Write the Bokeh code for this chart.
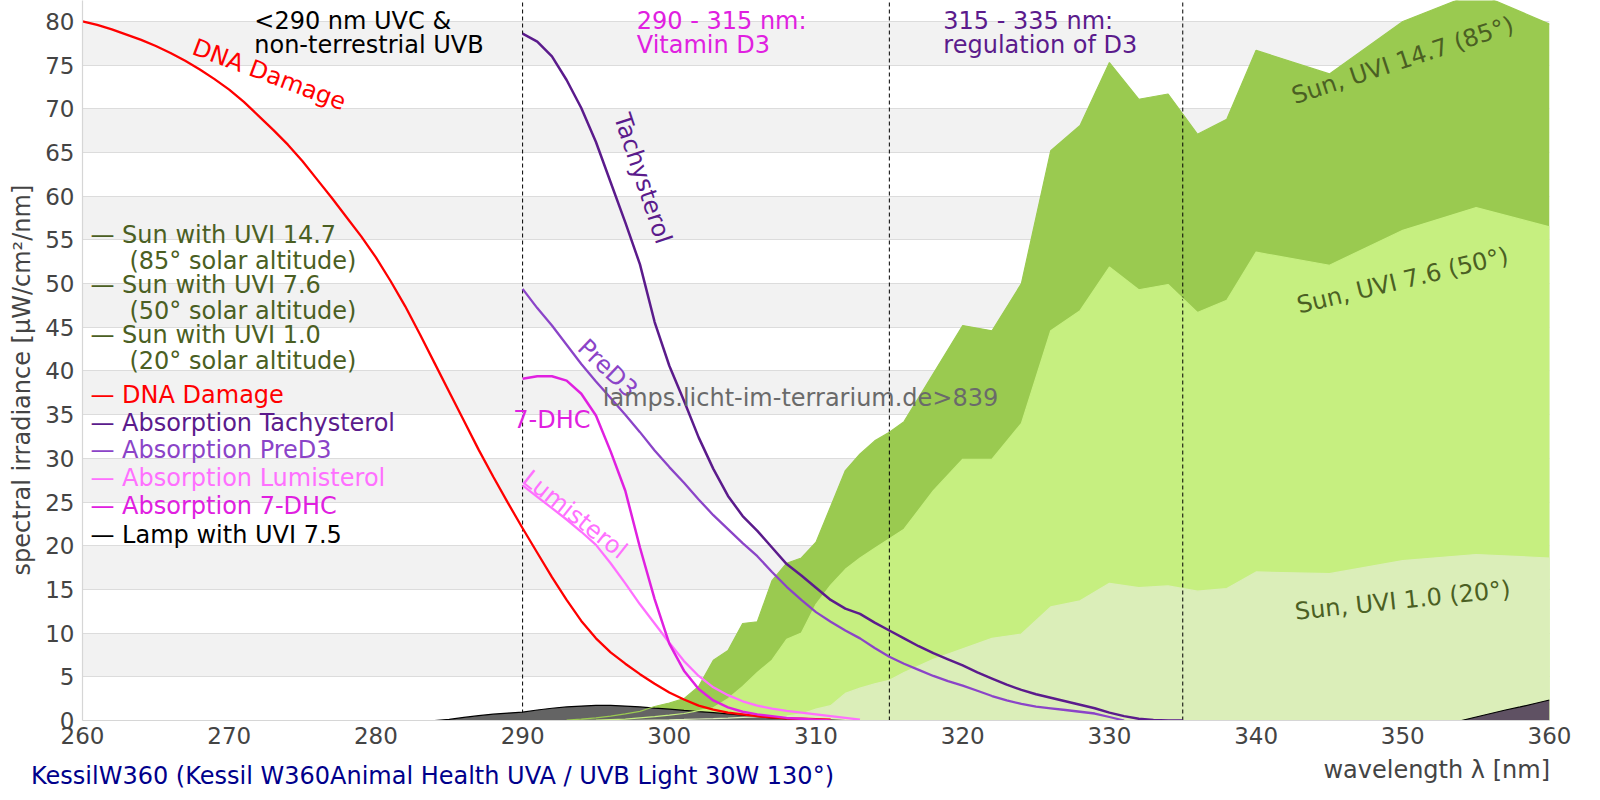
from bokeh.plotting import figure
from bokeh.models import Label, FixedTicker, Title, Div
from bokeh.layouts import column
from bokeh.embed import file_html
from bokeh.resources import INLINE

# ---------------- data ----------------
x_ticks = [260, 270, 280, 290, 300, 310, 320, 330, 340, 350, 360]
y_ticks = [0, 5, 10, 15, 20, 25, 30, 35, 40, 45, 50, 55, 60, 65, 70, 75, 80]

region_bounds = [290, 315, 335]

dna_wl = list(range(260, 312))
dna = [80.0, 79.6, 79.1, 78.5, 77.9, 77.2, 76.4, 75.5, 74.5, 73.4, 72.2, 70.8, 69.2,
       67.6, 65.9, 64.0, 61.9, 59.8, 57.6, 55.4, 53.0, 50.3, 47.4, 44.2, 40.9, 37.6,
       34.3, 31.0, 27.9, 24.9, 22.0, 19.2, 16.4, 13.8, 11.4, 9.4, 7.8, 6.5, 5.3, 4.2,
       3.2, 2.4, 1.7, 1.25, 0.9, 0.7, 0.5, 0.35, 0.25, 0.2, 0.15, 0.1]

tachy_wl = list(range(290, 336))
tachy = [78.6, 77.7, 76.0, 73.3, 70.1, 66.2, 61.6, 57.0, 52.2, 45.6, 40.6, 36.6, 32.4,
         28.8, 25.7, 23.4, 21.7, 19.8, 17.9, 16.6, 15.2, 13.8, 12.8, 12.2, 11.2, 10.3,
         9.4, 8.5, 7.7, 7.0, 6.3, 5.5, 4.8, 4.1, 3.5, 3.0, 2.6, 2.2, 1.8, 1.4, 0.9, 0.5,
         0.2, 0.05, 0.0, 0.0]

pred3_wl = list(range(290, 332))
pred3 = [49.4, 47.2, 45.2, 43.0, 40.8, 38.8, 36.9, 35.0, 33.0, 30.9, 29.0, 27.2, 25.3,
         23.5, 21.9, 20.3, 18.8, 17.0, 15.3, 13.8, 12.4, 11.3, 10.3, 9.4, 8.3, 7.3, 6.5,
         5.8, 5.1, 4.5, 4.0, 3.4, 2.8, 2.3, 1.9, 1.6, 1.4, 1.2, 1.0, 0.8, 0.4, 0.0]

lumi_wl = list(range(290, 314))
lumi = [26.9, 25.6, 24.3, 23.0, 21.6, 20.1, 18.0, 15.7, 13.3, 11.1, 8.9, 6.8, 5.1, 3.8,
        2.9, 2.2, 1.7, 1.35, 1.1, 0.9, 0.7, 0.5, 0.3, 0.1]

dhc_wl = list(range(290, 312))
dhc = [39.1, 39.4, 39.4, 38.9, 37.4, 34.9, 30.8, 26.3, 19.8, 13.9, 8.8, 5.7, 3.6, 2.3,
       1.5, 1.0, 0.7, 0.5, 0.3, 0.2, 0.1, 0.0]

sun_wl = list(range(293, 317)) + list(range(318, 341, 2)) + [345, 350, 355, 360]
sun_147 = [0.05, 0.15, 0.3, 0.5, 0.75, 1.05, 1.6, 2.0, 2.5, 3.9, 6.9, 8.0, 11.1, 11.3,
           16.0, 18.0, 18.6, 20.4, 24.5, 28.6, 30.5, 32.0, 33.0, 34.2,
           39.7, 45.2, 44.6, 50.0, 65.2, 68.1, 75.3, 71.1, 71.7, 67.1, 68.8, 76.7,
           74.0, 80.0, 83.3, 79.7]
sun_76 = [0.0, 0.02, 0.05, 0.1, 0.15, 0.3, 0.45, 0.62, 0.8, 1.14, 1.45, 2.5, 3.9, 5.5,
          6.9, 9.3, 10.0, 13.3, 15.5, 17.3, 18.6, 19.7, 20.8, 21.9,
          26.3, 29.9, 29.9, 34.0, 44.6, 46.9, 51.9, 49.3, 49.9, 46.7, 48.1, 53.6,
          52.1, 56.1, 58.7, 56.5]
sun_10 = [0.0, 0.0, 0.0, 0.0, 0.0, 0.02, 0.05, 0.08, 0.12, 0.17, 0.22, 0.28, 0.35, 0.42,
          0.48, 0.5, 0.75, 1.3, 1.7, 3.1, 3.7, 4.2, 4.6, 5.5,
          7.0, 8.2, 9.4, 9.9, 13.0, 13.7, 15.7, 15.2, 15.4, 14.8, 15.1, 17.0,
          16.8, 18.3, 19.0, 18.6]

lamp_uvb_wl = list(range(284, 313))
lamp_uvb = [0.0, 0.12, 0.35, 0.55, 0.72, 0.85, 0.95, 1.2, 1.4, 1.55, 1.65, 1.72, 1.72,
            1.65, 1.55, 1.42, 1.3, 1.15, 1.02, 0.9, 0.75, 0.6, 0.42, 0.3, 0.22, 0.16,
            0.1, 0.05, 0.0]
lamp_uva_wl = [353, 354, 355, 356, 357, 358, 359, 360]
lamp_uva = [0.0, 0.0, 0.4, 0.8, 1.2, 1.55, 1.95, 2.35]

legend_entries = [
    ("\u2014 Sun with UVI 14.7", "(85\u00b0 solar altitude)", "#4b5f23"),
    ("\u2014 Sun with UVI 7.6", "(50\u00b0 solar altitude)", "#4b5f23"),
    ("\u2014 Sun with UVI 1.0", "(20\u00b0 solar altitude)", "#4b5f23"),
    ("\u2014 DNA Damage", None, "#ff0000"),
    ("\u2014 Absorption Tachysterol", None, "#5b1b8c"),
    ("\u2014 Absorption PreD3", None, "#8b44c8"),
    ("\u2014 Absorption Lumisterol", None, "#ff70ff"),
    ("\u2014 Absorption 7-DHC", None, "#e020e0"),
    ("\u2014 Lamp with UVI 7.5", None, "#000000"),
]

title_text = "KessilW360 (Kessil W360Animal Health UVA / UVB Light 30W 130\u00b0)"
x_label = "wavelength \u03bb [nm]"
y_label = "spectral irradiance [\u00b5W/cm\u00b2/nm]"
watermark = "lamps.licht-im-terrarium.de>839"

# ---------------- layout ----------------
W = 1592
FIG_H = 754
DIV_H = 38
XMIN, XMAX = 260, 360
YMIN, YMAX = 0, 82.4
FL, FR, FB = 80, 43, 34
frame_w = W - FL - FR
frame_h = FIG_H - FB
FONT = "DejaVu Sans"
FS = "24px"


def dx(page_x):
    return XMIN + (page_x - FL) * (XMAX - XMIN) / frame_w


def dy(page_y):
    return YMAX - page_y * (YMAX - YMIN) / frame_h


p = figure(width=W, height=FIG_H, x_range=(XMIN, XMAX), y_range=(YMIN, YMAX),
           output_backend="svg", toolbar_location=None, title=None,
           min_border_left=FL, min_border_right=FR, min_border_top=0,
           min_border_bottom=FB)
p.outline_line_color = None
p.background_fill_color = "white"
p.border_fill_color = "white"

p.xgrid.visible = False
p.ygrid.grid_line_color = "#dcdcdc"
p.ygrid.grid_line_width = 1.2
p.ygrid.band_fill_color = "#f2f2f2"
p.ygrid.band_fill_alpha = 1.0

p.xaxis.ticker = FixedTicker(ticks=x_ticks)
p.yaxis.ticker = FixedTicker(ticks=y_ticks)
for ax in (p.xaxis, p.yaxis):
    ax.major_label_text_font = FONT
    ax.major_label_text_font_size = "23px"
    ax.major_label_text_color = "#444444"
    ax.major_tick_line_color = None
    ax.minor_tick_line_color = None
    ax.major_tick_out = 0
    ax.major_tick_in = 0
    ax.axis_line_color = "#d6d6d6"
    ax.axis_line_width = 1.2
p.xaxis.major_label_standoff = 6
p.yaxis.major_label_standoff = 8

# y-axis label as a side title (not clipped)
p.add_layout(Title(text=y_label, align="left", offset=145, vertical_align="middle",
                   standoff=12, text_font=FONT, text_font_size=FS,
                   text_font_style="normal", text_color="#444444"), "left")

# sun fills
sun_cols = ["#9aca50", "#c6ef80", "#dbeeb9"]
for ys, c in zip([sun_147, sun_76, sun_10], sun_cols):
    p.varea(x=sun_wl, y1=0, y2=ys, fill_color=c)

# region boundaries
p.segment(x0=region_bounds, x1=region_bounds, y0=YMIN, y1=YMAX,
          line_color="black", line_width=1, line_dash="4 3")

# lamp
p.varea(x=lamp_uvb_wl, y1=0, y2=lamp_uvb, fill_color="#646464")
p.line(lamp_uvb_wl, lamp_uvb, line_color="black", line_width=1.2)
p.varea(x=lamp_uva_wl, y1=0, y2=lamp_uva, fill_color="#5f5163")
p.line(lamp_uva_wl, lamp_uva, line_color="black", line_width=1.2)

# sun outlines above lamp
for ys, c in zip([sun_147, sun_76, sun_10], sun_cols):
    p.line(sun_wl, ys, line_color=c, line_width=1.2)

# curves
p.line(dna_wl, dna, line_color="#ff0000", line_width=2.3)
p.line(tachy_wl, tachy, line_color="#5b1b8c", line_width=2.5)
p.line(pred3_wl, pred3, line_color="#8b44c8", line_width=2.3)
p.line(lumi_wl, lumi, line_color="#ff70ff", line_width=2.3)
p.line(dhc_wl, dhc, line_color="#e020e0", line_width=2.5)


def add_label(px, py, text, color, angle=0.0, align="left", size=FS):
    p.add_layout(Label(x=dx(px), y=dy(py), text=text, text_color=color,
                       text_font=FONT, text_font_size=size, angle=angle,
                       angle_units="deg", text_align=align, text_baseline="middle"))


# region texts
add_label(252, 20, "<290 nm UVC &", "#000000")
add_label(252, 44, "non-terrestrial UVB", "#000000")
add_label(635, 20, "290 - 315 nm:", "#e020e0")
add_label(635, 44, "Vitamin D3", "#e020e0")
add_label(942, 20, "315 - 335 nm:", "#5b1b8c")
add_label(942, 44, "regulation of D3", "#5b1b8c")

# curve labels
add_label(267, 74, "DNA Damage", "#ff0000", angle=-20.5, align="center")
add_label(641, 178, "Tachysterol", "#5b1b8c", angle=-71.5, align="center")
add_label(606, 368, "PreD3", "#8b44c8", angle=-44, align="center")
add_label(550, 419, "7-DHC", "#e020e0", align="center")
add_label(573, 514, "Lumisterol", "#ff70ff", angle=-38.5, align="center")
add_label(1402, 60, "Sun, UVI 14.7 (85\u00b0)", "#4b5f23", angle=18.2, align="center")
add_label(1402, 280, "Sun, UVI 7.6 (50\u00b0)", "#4b5f23", angle=13.5, align="center")
add_label(1402, 600, "Sun, UVI 1.0 (20\u00b0)", "#4b5f23", angle=6.0, align="center")

# watermark
add_label(799, 397, watermark, "#6a6a6a", align="center")

# legend
row_y = [(234, 260), (284, 310), (334, 360), (394, None), (422, None), (449, None),
         (477, None), (505, None), (534, None)]
for (l1, l2, col), (y1, y2) in zip(legend_entries, row_y):
    add_label(88, y1, l1, col)
    if l2 is not None:
        add_label(127, y2, l2, col)

# bottom texts: title (left) and x-axis label (right)
title_top = round(775 - 11.5 - FIG_H)
xlab_top = round(769 - 11.5 - FIG_H)
bottom_html = (
    f'<div style="position:relative;width:{W}px;height:{DIV_H}px;'
    f"font-family:'DejaVu Sans';font-size:24px;line-height:1;\">"
    f'<span style="position:absolute;left:31px;top:{title_top}px;color:#00008b;'
    f'white-space:nowrap;">{title_text}</span>'
    f'<span style="position:absolute;right:{W - 1550}px;top:{xlab_top}px;color:#444444;'
    f'white-space:nowrap;">{x_label}</span>'
    f'</div>'
)
bottom = Div(text=bottom_html, width=W, height=DIV_H, margin=0)

layout = column(p, bottom, spacing=0)
open("out.html", "w").write(file_html(layout, INLINE))
